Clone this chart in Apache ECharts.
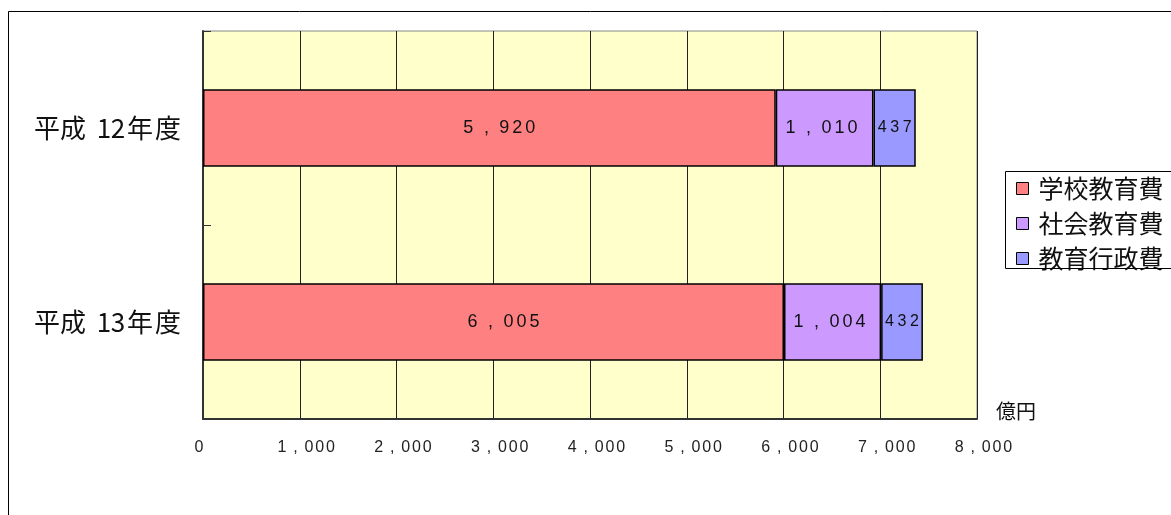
<!DOCTYPE html>
<html><head><meta charset="utf-8">
<script src="https://cdn.jsdelivr.net/npm/echarts@6/dist/echarts.min.js"></script>
<style>html,body{margin:0;padding:0;background:#fff}#c{width:1171px;height:515px}</style>
</head><body><div id="c"></div>
<script>
const categories = ['平成 12年度', '平成 13年度'];
const seriesNames = ['学校教育費', '社会教育費', '教育行政費'];
const school = [5920, 6005];
const social = [1010, 1004];
const admin = [437, 432];
const colors = ['#FF8080', '#CC99FF', '#9999FF'];

const NUM = 'Liberation Sans, Arial, sans-serif';
const JP = 'Noto Sans CJK JP, sans-serif';
// spread digits like the original spreadsheet rendering (rich tokens with fixed width)
function spread(v, lead) {
  const s = Number(v).toLocaleString('en-US');
  let out = lead ? '{p| }' : '';
  for (const ch of s) out += ch === ',' ? '{c|,}' : '{d|' + ch + '}';
  return out;
}
function tok(fs, w) {
  return { fontFamily: NUM, fontSize: fs, color: '#111', width: w, align: 'center' };
}
const chart = echarts.init(document.getElementById('c'));
function mk(name, data, color, fs, pitch, commaW, pad) {
  return {
    name, type: 'bar', stack: 'total', data, barWidth: '40%',
    itemStyle: { color, borderColor: '#000', borderWidth: 1.5 },
    label: { show: true, position: 'inside', padding: pad,
      formatter: p => spread(p.value, false),
      rich: { d: tok(fs, pitch), c: tok(fs, commaW) } },
    emphasis: { disabled: true }
  };
}
chart.setOption({
  animation: false,
  grid: { left: 203, right: 194, top: 31, bottom: 96, show: true, backgroundColor: '#FFFFCC', borderWidth: 1, borderColor: '#888' },
  xAxis: {
    type: 'value', min: 0, max: 8000, interval: 1000,
    axisLine: { show: true, lineStyle: { color: '#333', width: 2 } },
    axisTick: { show: false },
    splitLine: { show: true, lineStyle: { color: '#222', width: 1 } },
    axisLabel: { margin: 21,
      formatter: v => v === 0 ? '{z|0}' : spread(v, true),
      rich: {
        z: { fontFamily: NUM, fontSize: 16, color: '#222', padding: [0, 8, 0, 0] },
        d: Object.assign(tok(16, 10.8), { color: '#222' }),
        c: Object.assign(tok(16, 16), { color: '#222' }),
        p: tok(16, 13)
      } }
  },
  yAxis: {
    type: 'category', data: categories, inverse: true,
    axisLine: { show: true, lineStyle: { color: '#333', width: 2 } },
    axisTick: { show: true, inside: true, length: 8, lineStyle: { color: '#333' } },
    axisLabel: { margin: 22,
      formatter: v => {
        const [era, rest] = v.split(' ');
        const m = rest.match(/^(\d+)(.)(.*)$/);
        let out = '{a|' + era + '}{s| }';
        for (const ch of m[1]) out += '{d|' + ch + '}';
        return out + '{y|' + m[2] + '}{a|' + m[3] + '}';
      },
      rich: {
        a: { fontFamily: JP, fontSize: 26, color: '#111' },
        y: { fontFamily: JP, fontSize: 26, color: '#111', width: 30, align: 'left' },
        s: { fontFamily: JP, fontSize: 26, width: 11 },
        d: { fontFamily: JP, fontSize: 26, color: '#111', width: 14, align: 'center' }
      } }
  },
  legend: {
    orient: 'vertical', left: 1005, top: 171, data: seriesNames,
    itemWidth: 12, itemHeight: 12, itemGap: 10, icon: 'rect',
    padding: [5, 0, 0, 11], borderWidth: 0,
    itemStyle: { borderColor: '#000', borderWidth: 1 },
    textStyle: { fontFamily: JP, fontSize: 25, color: '#111', padding: [0, 0, 0, 5] }
  },
  graphic: [
    { type: 'rect', shape: { x: 8.5, y: 11.5, width: 1300, height: 600 }, style: { fill: 'none', stroke: '#000', lineWidth: 1 }, silent: true, z: -10 },
    { type: 'rect', shape: { x: 1005.5, y: 171.5, width: 300, height: 97 }, style: { fill: 'none', stroke: '#000', lineWidth: 1 }, silent: true, z: 10 },
    { type: 'text', left: 996, top: 401, style: { text: '億円', fontFamily: JP, fontSize: 20, fill: '#111' } }
  ],
  series: [
    mk(seriesNames[0], school, colors[0], 18, 13, 23, [0, 0, 0, 20]),
    mk(seriesNames[1], social, colors[1], 18, 13, 23, [0, 6, 0, 0]),
    mk(seriesNames[2], admin, colors[2], 16, 12.5, 10, 0)
  ]
});
</script></body></html>
